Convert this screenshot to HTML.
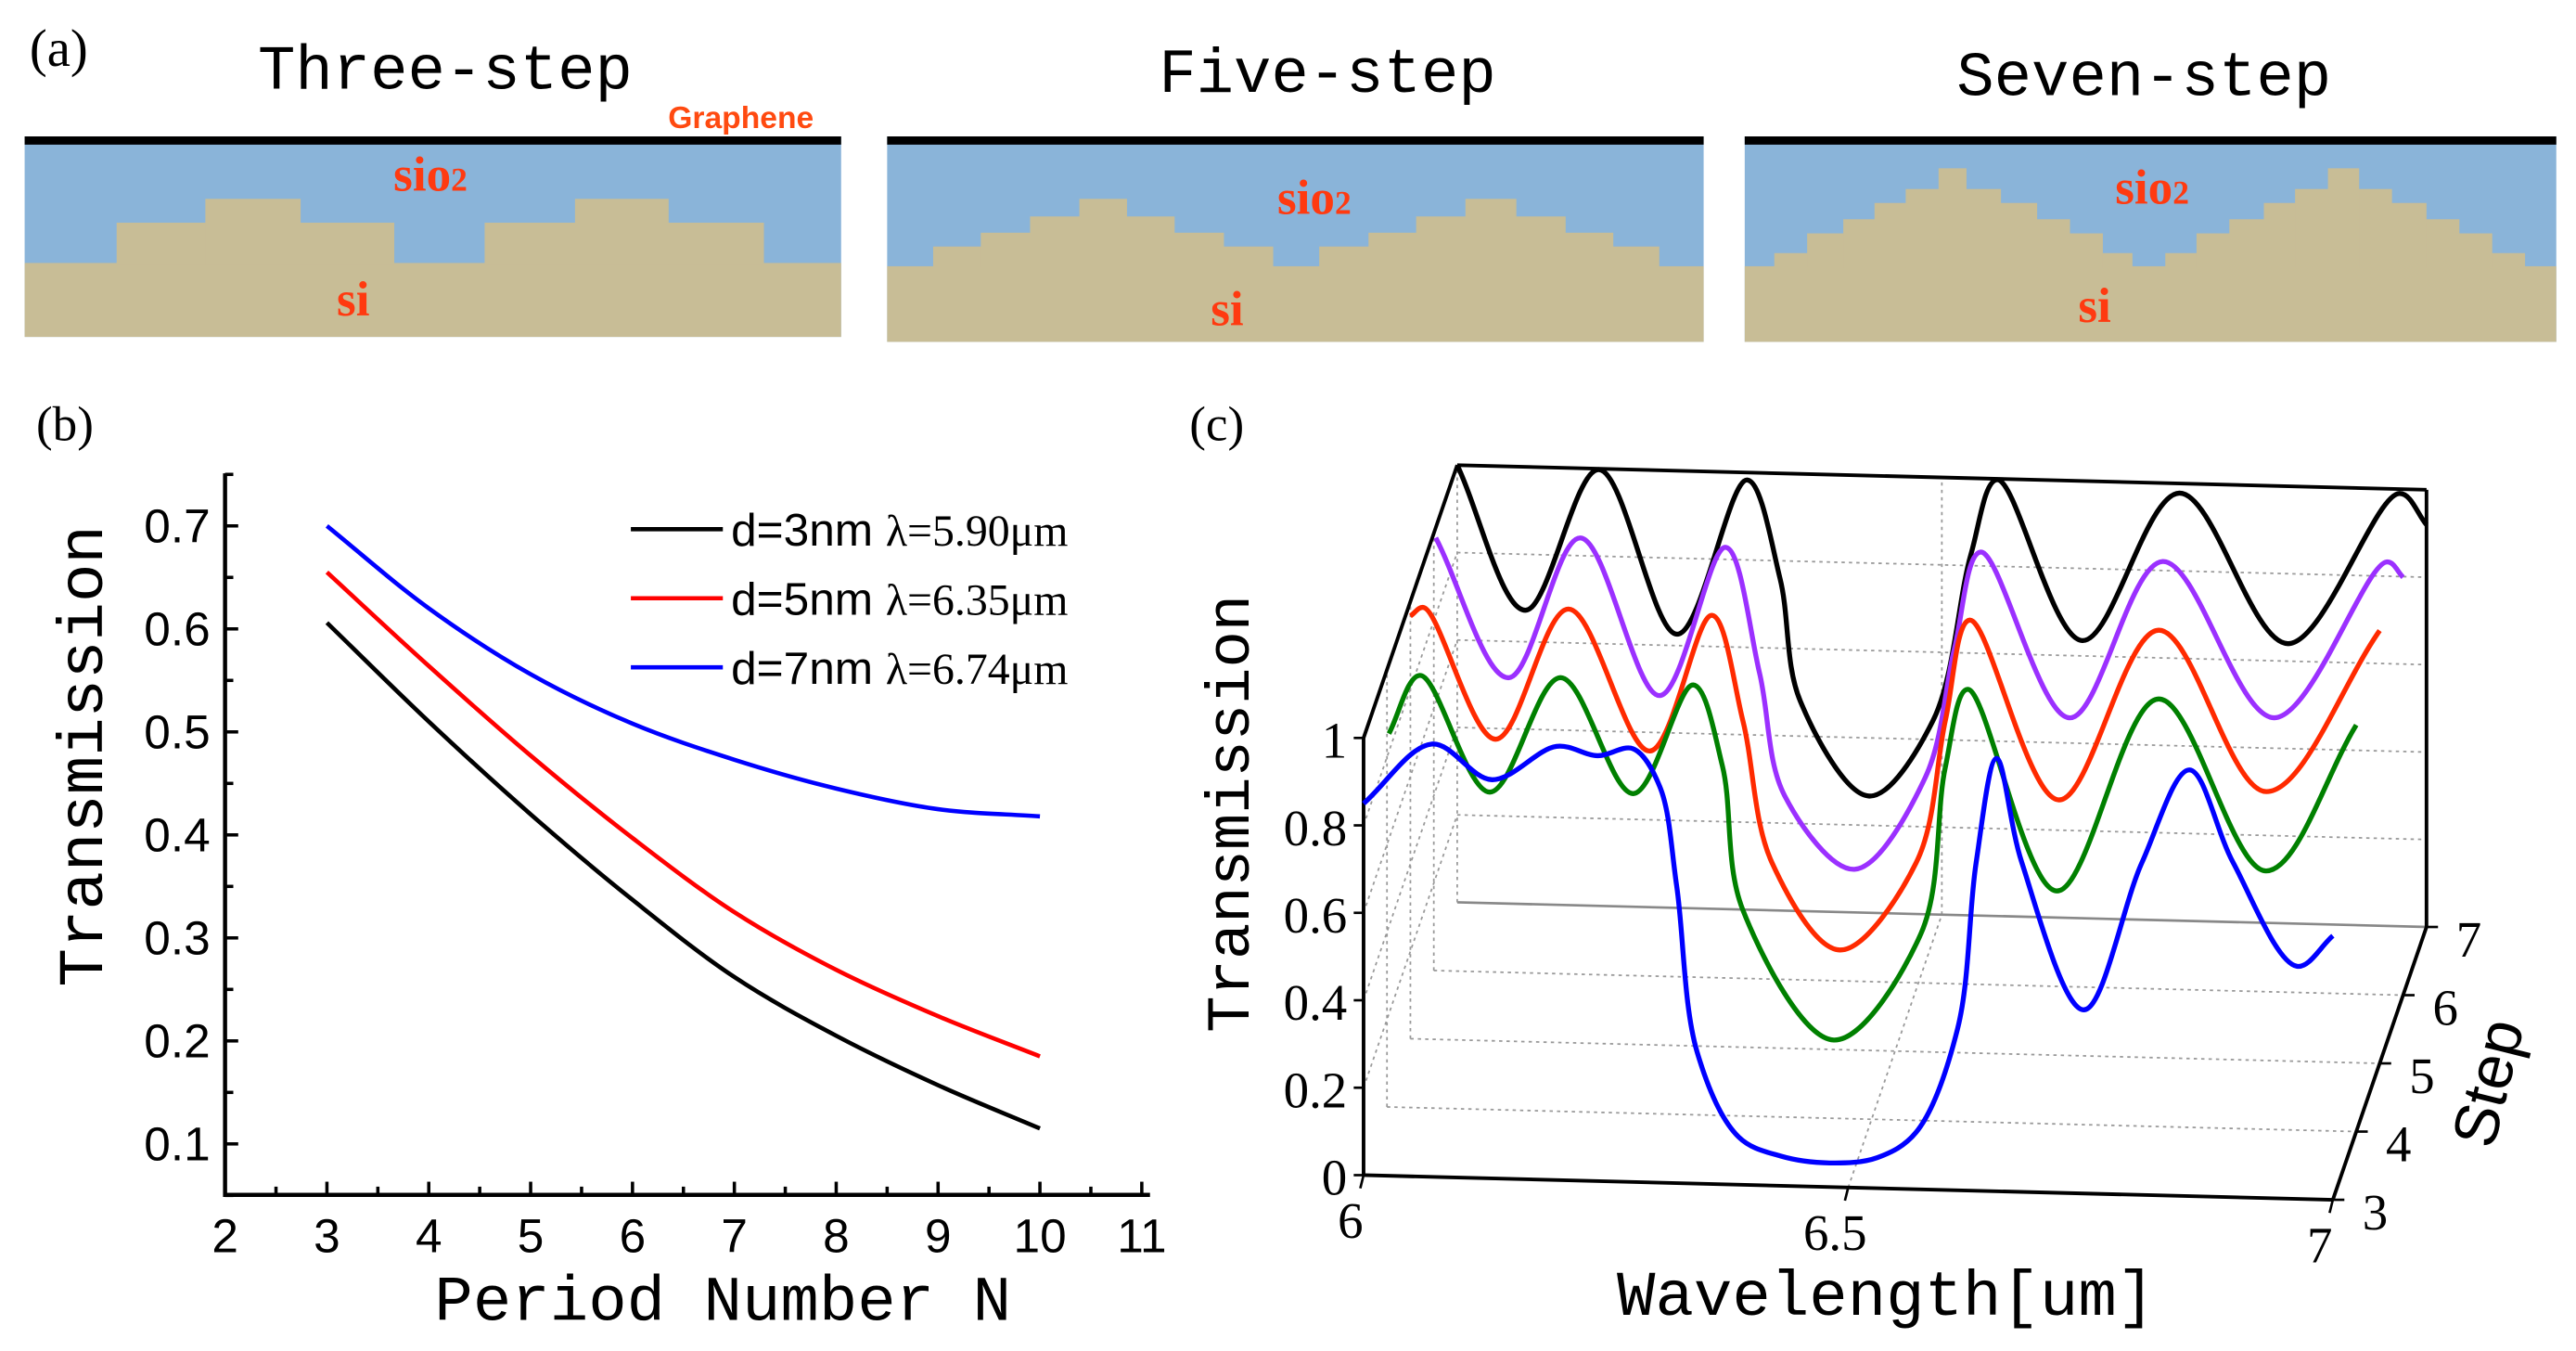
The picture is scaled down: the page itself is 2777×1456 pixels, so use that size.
<!DOCTYPE html>
<html><head><meta charset="utf-8"><style>
html,body{margin:0;padding:0;background:#fff;width:2777px;height:1456px;overflow:hidden}
svg{display:block}
.mono{font-family:"Liberation Mono",monospace}
.sans{font-family:"Liberation Sans",sans-serif}
.serif{font-family:"Liberation Serif",serif}
</style></head><body>
<svg id="fig" width="2777" height="1456" viewBox="0 0 1568 822" preserveAspectRatio="none" xmlns="http://www.w3.org/2000/svg">
<g>
  <text x="18" y="40" class="serif" font-size="32">(a)</text>
  <text x="271" y="54" class="mono" font-size="38" text-anchor="middle">Three-step</text>
  <text x="808" y="56" class="mono" font-size="38" text-anchor="middle">Five-step</text>
  <text x="1305" y="58" class="mono" font-size="38" text-anchor="middle">Seven-step</text>
  <text x="451" y="78" class="sans" font-size="19" font-weight="bold" fill="#ff4a10" text-anchor="middle">Graphene</text>
  <g id="structs"></g>
</g>
<g>
  <text x="22" y="268" class="serif" font-size="30">(b)</text>
  <g id="bplot"></g>
  <text transform="translate(62,460) rotate(-90)" class="mono" font-size="39" text-anchor="middle">Transmission</text>
  <text x="440" y="803" class="mono" font-size="39" text-anchor="middle">Period Number N</text>
</g>
<g>
  <text x="724" y="268" class="serif" font-size="30">(c)</text>
  <g id="cplot"></g>
  <text transform="translate(760,495) rotate(-90)" class="mono" font-size="37" text-anchor="middle">Transmission</text>
  <text x="1148" y="800" class="mono" font-size="39" text-anchor="middle">Wavelength[um]</text>
  <text transform="translate(1527,662) rotate(-76)" class="sans" font-size="38" text-anchor="middle">Step</text>
</g>
</svg>
<script>
const NS="http://www.w3.org/2000/svg";
function mk(tag,attrs,parent){const e=document.createElementNS(NS,tag);for(const k in attrs)e.setAttribute(k,attrs[k]);parent.appendChild(e);return e;}

// ---------- Panel (a) structures ----------
const structNames=["three","five","seven"];
const structBoxes=[[15,83,497,122],[540,83,497,125],[1062,83,494,125]];
const structBaseTop=[160,162,162];
const structLevels=[
 [[71,240,295,465,135.5],[125,183,350,407,121]],
 [[568,775,803,1010,150],[597,745,833,982,141.6],[627,715,862,953,131.7],[657,686,892,923,121]],
 [[1080,1298,1318,1537,154],[1100,1280,1337,1517,142],[1122,1260,1357,1497,133.4],[1141,1240,1378,1477,123.5],[1160,1218,1397,1456,115],[1180,1197,1417,1436,102.4]]
];
const sioPos=[[262,116],[800,130],[1310,124]];
const siPos=[[215,192],[747,198],[1275,196]];
const sg=document.getElementById('structs');
structNames.forEach((n,i)=>{
  const [x,y,w,h]=structBoxes[i];
  const g=mk('g',{},sg);
  
  
  const ox=mk('rect',{x:x,y:y,width:w,height:h,fill:'#8ab4d9'},g);
  
  const si=mk('rect',{x:x,y:structBaseTop[i],width:w,height:y+h-structBaseTop[i],fill:'#c8bd96'},g);
  
  structLevels[i].forEach((L)=>{
    [[L[0],L[1]],[L[2],L[3]]].forEach(([a,b])=>{
      const r=mk('rect',{x:a,y:L[4],width:b-a,height:structBaseTop[i]-L[4]+1,fill:'#c8bd96'},g);
      
    });
  });
  const gr=mk('rect',{x:x,y:y,width:w,height:5,fill:'#000'},g);
  
  const t1=mk('text',{x:sioPos[i][0],y:sioPos[i][1],'font-size':30,'font-weight':'bold',fill:'#ff3a10','text-anchor':'middle','font-family':'Liberation Serif, serif'},g);
  t1.textContent='sio';
  const sub=mk('tspan',{'font-size':20},t1);sub.textContent='2';
  
  const t2=mk('text',{x:siPos[i][0],y:siPos[i][1],'font-size':30,'font-weight':'bold',fill:'#ff3a10','text-anchor':'middle','font-family':'Liberation Serif, serif'},g);
  t2.textContent='si';
  
});

// ---------- centripetal Catmull-Rom in screen space ----------
function crPath(xs,ys,map){
  const pts=xs.map((x,i)=>map(x,ys[i]));
  const n=pts.length;
  const dist=(a,b)=>Math.pow(Math.hypot(b[0]-a[0],b[1]-a[1]),0.5);
  const fmt=p=>p[0].toFixed(2)+','+p[1].toFixed(2);
  let d='M'+fmt(pts[0]);
  for(let i=0;i<n-1;i++){
    const p0=pts[Math.max(0,i-1)],p1=pts[i],p2=pts[i+1],p3=pts[Math.min(n-1,i+2)];
    const d1=dist(p0,p1),d2=dist(p1,p2),d3=dist(p2,p3);
    let c1,c2;
    if(d1<1e-6) c1=[p1[0]+(p2[0]-p1[0])/3,p1[1]+(p2[1]-p1[1])/3];
    else{
      const A=2*d1*d1+3*d1*d2+d2*d2,B=3*d1*(d1+d2);
      c1=[(d1*d1*p2[0]-d2*d2*p0[0]+A*p1[0])/B,(d1*d1*p2[1]-d2*d2*p0[1]+A*p1[1])/B];
    }
    if(d3<1e-6) c2=[p2[0]-(p2[0]-p1[0])/3,p2[1]-(p2[1]-p1[1])/3];
    else{
      const A=2*d3*d3+3*d3*d2+d2*d2,B=3*d3*(d3+d2);
      c2=[(d3*d3*p1[0]-d2*d2*p3[0]+A*p2[0])/B,(d3*d3*p1[1]-d2*d2*p3[1]+A*p2[1])/B];
    }
    d+=' C'+fmt(c1)+' '+fmt(c2)+' '+fmt(p2);
  }
  return d;
}

// ---------- Panel (b) data ----------
const periodN=[3,4,5,6,7,8,9,10];
const transD3=[0.606,0.51,0.42,0.337,0.262,0.205,0.157,0.115];
const transD5=[0.655,0.564,0.477,0.397,0.325,0.269,0.224,0.185];
const transD7=[0.70,0.62,0.556,0.508,0.473,0.445,0.425,0.418];
const bXTicks=[2,3,4,5,6,7,8,9,10,11];
const bYTicks=[0.1,0.2,0.3,0.4,0.5,0.6,0.7];
const legendLabels=["d=3nm ","d=5nm ","d=7nm "];
const legendLambdas=["λ=5.90μm","λ=6.35μm","λ=6.74μm"];
const bColors=["#000","#ff0000","#0000ff"];

const bx=n=>137+(n-2)*62;
const by=t=>696-(t-0.1)*626.7;
const bp=document.getElementById('bplot');
let ax=mk('path',{d:'M137,288 L137,727 L700,727',fill:'none',stroke:'#000','stroke-width':2.5},bp);

for(let n=2;n<=11;n+=0.5){
  const major=Number.isInteger(n);
  const t=mk('line',{x1:bx(n),x2:bx(n),y1:727,y2:727-(major?8:5),stroke:'#000','stroke-width':2},bp);
  
}
bXTicks.forEach(n=>{
  const t=mk('text',{x:bx(n),y:762,'font-size':29,'text-anchor':'middle','font-family':'Liberation Sans, sans-serif'},bp);
  t.textContent=String(n);
  
});
for(let v=0.05;v<=0.751;v+=0.05){
  const major=Math.abs(v*10-Math.round(v*10))<1e-6;
  const t=mk('line',{x1:137,x2:137+(major?8:5),y1:by(v),y2:by(v),stroke:'#000','stroke-width':2},bp);
  
}
bYTicks.forEach(v=>{
  const t=mk('text',{x:128,y:by(v)+10,'font-size':29,'text-anchor':'end','font-family':'Liberation Sans, sans-serif'},bp);
  t.textContent=v.toFixed(1);
  
});
[transD3,transD5,transD7].forEach((ser,i)=>{
  const p=mk('path',{d:crPath(periodN,ser,(n,t)=>[bx(n),by(t)]),fill:'none',stroke:bColors[i],'stroke-width':2.6},bp);
  
  const ly=322+i*42;
  const l=mk('line',{x1:384,x2:440,y1:ly,y2:ly,stroke:bColors[i],'stroke-width':2.6},bp);
  
  const tx=mk('text',{x:445,y:ly+10,'font-size':28,'font-family':'Liberation Sans, sans-serif'},bp);
  tx.textContent=legendLabels[i];
  const ts=mk('tspan',{'font-family':'Liberation Serif, serif','font-size':27},tx);ts.textContent=legendLambdas[i];
  
});

// ---------- Panel (c) data ----------
const cSteps=[3,4,5,6,7];
const cColors=["#0000ff","#008000","#ff2a00","#9b30ff","#000000"];
const wl3=[0,0.0705,0.1325,0.199,0.2415,0.278,0.3056,0.323,0.344,0.387,0.43,0.481,0.53,0.57,0.613,0.632,0.653,0.679,0.743,0.803,0.852,0.897,0.963,1.0];
const tr3=[0.85,0.99,0.912,0.992,0.973,0.991,0.906,0.68,0.302,0.109,0.068,0.055,0.07,0.13,0.371,0.751,0.99,0.754,0.42,0.76,0.975,0.766,0.532,0.604];
const wl4=[0.002,0.034,0.106,0.179,0.254,0.316,0.346,0.367,0.461,0.551,0.576,0.599,0.691,0.796,0.907,1.0];
const tr4=[0.854,0.989,0.726,0.992,0.731,0.983,0.80,0.472,0.179,0.428,0.809,0.989,0.533,0.978,0.591,0.93];
const wl5=[0,0.014,0.088,0.163,0.247,0.311,0.343,0.373,0.443,0.522,0.552,0.577,0.669,0.772,0.883,1.0];
const tr5=[0.967,0.987,0.69,0.992,0.672,0.986,0.747,0.424,0.228,0.433,0.76,0.99,0.584,0.978,0.615,0.99];
const wl6=[0.002,0.077,0.151,0.233,0.301,0.336,0.362,0.434,0.507,0.537,0.564,0.656,0.752,0.867,0.983,1.0];
const tr6=[0.99,0.674,0.998,0.642,0.985,0.70,0.42,0.256,0.47,0.765,0.989,0.615,0.978,0.627,0.99,0.956];
const wl7=[0,0.0702,0.146,0.227,0.299,0.333,0.354,0.425,0.491,0.53,0.557,0.645,0.745,0.857,0.972,1.0];
const tr7=[1.0,0.672,0.998,0.626,0.983,0.76,0.48,0.267,0.444,0.826,0.998,0.635,0.978,0.64,0.99,0.92];
const cZTicks=[0,0.2,0.4,0.6,0.8,1];
const cXTicks=[6,6.5,7];
const cSTicks=[3,4,5,6,7];

const px=(w,s,T)=>830+590*w+57*(s-3)/4;
const py=(w,s,T)=>715+15*w-166*(s-3)/4-266*T;
const P=(w,s,T)=>[px(w,s,T),py(w,s,T)];
const cp=document.getElementById('cplot');
function ln(a,b,attrs,name){const e=mk('line',Object.assign({x1:a[0],y1:a[1],x2:b[0],y2:b[1]},attrs),cp);return e;}
const dot={stroke:'#999','stroke-width':1,'stroke-dasharray':'2,2.5'};
for(let T=0.2;T<=1.001;T+=0.2) ln(P(0,7,T),P(1,7,T),dot,'c-back-grid-line');
ln(P(0.5,7,0),P(0.5,7,1),dot,'c-back-grid-line');
for(let T=0.2;T<=1.001;T+=0.2) ln(P(0,3,T),P(0,7,T),dot,'c-side-grid-line');
for(let s=4;s<=6;s++) ln(P(0,s,0),P(0,s,1),dot,'c-side-grid-line');
for(let s=4;s<=6;s++) ln(P(0,s,0),P(1,s,0),dot,'c-floor-grid-line');
ln(P(0.5,3,0),P(0.5,7,0),dot,'c-floor-grid-line');
ln(P(0,7,0),P(1,7,0),{stroke:'#888','stroke-width':1.5},'c-back-floor-edge');
ln(P(0,7,0),P(0,7,1),dot,'c-back-left-edge');
const box={stroke:'#000','stroke-width':2.2};
ln(P(0,3,0),P(1,3,0),box,'c-x-axis');
ln(P(0,3,0),P(0,3,1),box,'c-z-axis');
ln(P(1,3,0),P(1,7,0),box,'c-step-axis');
ln(P(1,7,0),P(1,7,1),box,'c-box-edge');
ln(P(0,3,1),P(0,7,1),box,'c-box-edge');
ln(P(0,7,1),P(1,7,1),box,'c-box-edge');
const wls=[wl3,wl4,wl5,wl6,wl7],trs=[tr3,tr4,tr5,tr6,tr7];
for(let i=cSteps.length-1;i>=0;i--){
  const s=cSteps[i];
  const p=mk('path',{d:crPath(wls[i],trs[i],(w,T)=>P(w,s,T)),fill:'none',stroke:cColors[i],'stroke-width':3},cp);
  
}
const serifF='Liberation Serif, serif';
cZTicks.forEach(T=>{
  const q=P(0,3,T);
  ln([q[0]-6,q[1]],q,{stroke:'#000','stroke-width':1.5},'c-z-tick');
  const t=mk('text',{x:q[0]-10,y:q[1]+12,'font-size':31,'text-anchor':'end','font-family':serifF},cp);
  t.textContent=String(T);
  
});
cXTicks.forEach(v=>{
  const q=P(v-6,3,0);
  ln(q,[q[0]-2,q[1]+8],{stroke:'#000','stroke-width':1.5},'c-x-tick');
  const t=mk('text',{x:q[0]-8,y:q[1]+38,'font-size':31,'text-anchor':'middle','font-family':serifF},cp);
  t.textContent=String(v);
  
});
cSTicks.forEach(s=>{
  const q=P(1,s,0);
  ln(q,[q[0]+7,q[1]],{stroke:'#000','stroke-width':1.5},'c-step-tick');
  const t=mk('text',{x:q[0]+18,y:q[1]+18,'font-size':31,'font-family':serifF},cp);
  t.textContent=String(s);
  
});
</script>
</body></html>
